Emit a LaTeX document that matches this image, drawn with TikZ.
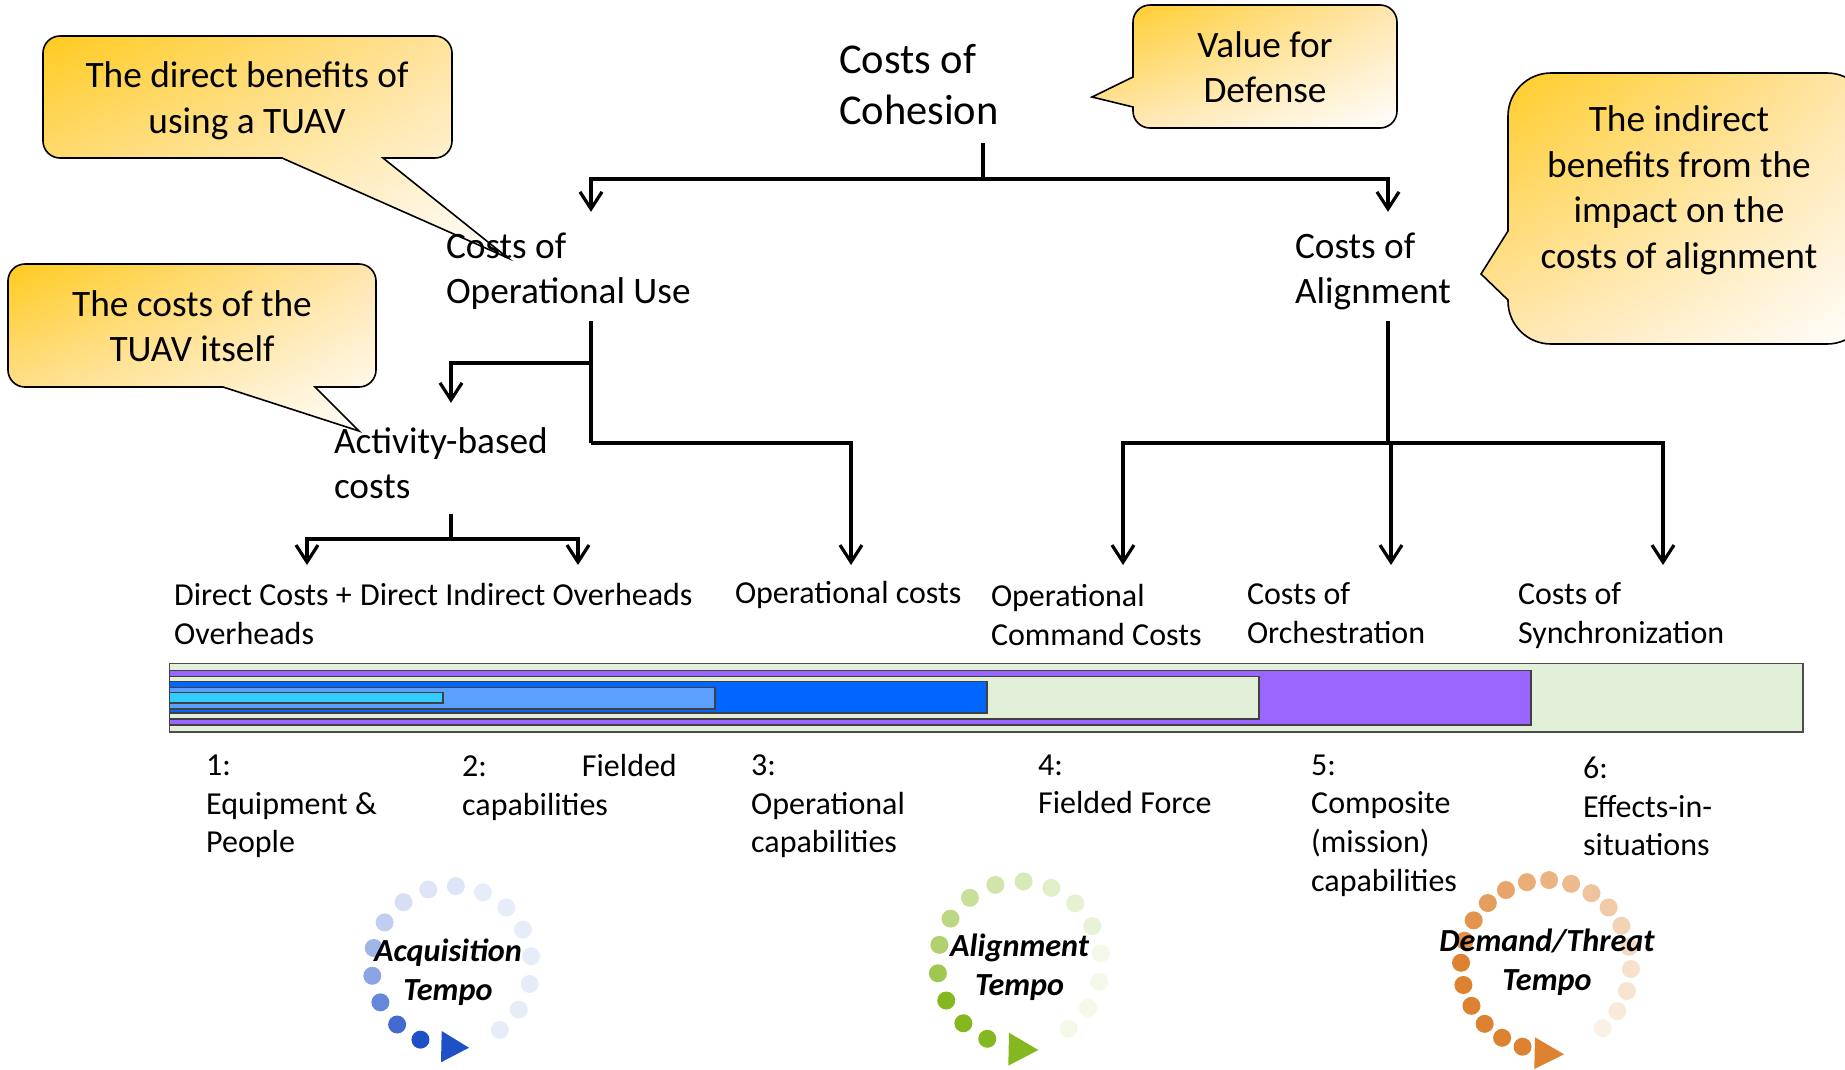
\documentclass[tikz,border=0pt]{standalone}
\usepackage{fontspec}
\setmainfont{Carlito}
\usepackage{tikz}
\usetikzlibrary{arrows.meta,calc,shadings}
\tikzset{>={Straight Barb[length=17pt,width=22pt,line width=3.2pt]}}
\def\ux{1pt}
\def\uy{-1pt}
\definecolor{calloutfrom}{HTML}{FFCB1F}
\definecolor{calloutmid}{HTML}{FFE5AE}
\definecolor{barwash}{HTML}{E2EFD9}
\definecolor{barmission}{HTML}{9966FF}
\definecolor{barops}{HTML}{0066FF}
\definecolor{barfielded}{HTML}{5B9FFF}
\definecolor{barequip}{HTML}{33CCFF}
\definecolor{acqblue}{HTML}{2050C8}
\definecolor{aligngreen}{HTML}{85B81E}
\definecolor{threatorange}{HTML}{DD8230}
\tikzset{
	link/.style={line width=4pt},
	branch/.style={link,->},
	balloon/.style={draw=black,line width=1.6pt,shade,upper left=calloutfrom,upper right=calloutmid,lower left=calloutmid,lower right=white},
	balloontext/.style={inner sep=0pt,align=center,font=\fontsize{37.3}{45.5}\selectfont},
	costbox/.style={inner sep=0pt,align=flush left,font=\fontsize{37.3}{45.5}\selectfont,execute at begin node=\rule{0pt}{35pt}},
	leafbox/.style={inner sep=0pt,align=flush left,anchor=north,font=\fontsize{32}{39}\selectfont},
	levelbox/.style={inner sep=0pt,align=left,anchor=north west,font=\fontsize{32}{38.7}\selectfont},
	tempobox/.style={inner sep=0pt,align=center,font=\fontsize{32.2}{39}\selectfont\bfseries\itshape}
}
\newcommand{\tempodots}[7]{% x, y, radius, start angle, step, colour, fades
	\foreach \fade [count=\i from 0] in {#7}{
		\pgfmathsetmacro{\ang}{#4-#5*\i}
		\fill[#6!\fade!white] ($(#1,#2)+(\ang:#3pt)$) circle (9pt);
	}
}
\begin{document}
\begin{tikzpicture}[x=\ux,y=\uy]
	\useasboundingbox (0,0) rectangle (1845,1069);
	\clip (0,0) rectangle (1845,1069);

	% balloons
	\path[balloon,rounded corners=17pt] (250,36) -- (452,36) -- (452,158) [sharp corners] -- (383,158) -- (508,258) -- (282,158) [rounded corners=17pt] -- (43,158) -- (43,36) -- cycle;
	\path[balloon,rounded corners=17pt] (190,264) -- (376,264) -- (376,387) [sharp corners] -- (315,387) -- (359,431) -- (223,387) [rounded corners=17pt] -- (8,387) -- (8,264) -- cycle;
	\path[balloon,rounded corners=17pt] (1264,5) -- (1397,5) -- (1397,128) -- (1133,128) [sharp corners] -- (1133,107) -- (1092,97) -- (1133,77) [rounded corners=17pt] -- (1133,5) -- cycle;
	\path[balloon,rounded corners=43pt] (1680,73) -- (1870,73) -- (1870,344) -- (1508,344) [sharp corners] -- (1508,300) -- (1481,274) -- (1508,231) [rounded corners=43pt] -- (1508,73) -- cycle;

	\node[balloontext] (benefit) at (247,101) {The direct benefits of\\using a TUAV};
	\node[balloontext] (itself) at (192,326) {The costs of the\\TUAV itself};
	\node[balloontext] (value) at (1265,67) {Value for\\Defense};
	\node[balloontext] (indirect) at (1679,190) {The indirect\\benefits from the\\impact on the\\costs of alignment};

	% cost tree
	\node[costbox,text width=288pt,minimum height=122pt,font=\fontsize{42.5}{51}\selectfont,execute at begin node={}] (cohesion) at (983,82) {Costs of\\Cohesion};
	\node[costbox,text width=290pt,minimum height=109pt] (opuse) at (591,266.5) {Costs of\\Operational Use};
	\node[costbox,text width=186pt,minimum height=109pt] (alignment) at (1388,266.5) {Costs of\\Alignment};
	\node[costbox,text width=234pt,minimum height=111pt] (activity) at (451,458.5) {Activity-based\\costs};

	\node[leafbox,anchor=north west] (dcost) at (174,583) {Direct Costs +\\Overheads};
	\node[leafbox,anchor=north west] (dindirect) at (360,583) {Direct Indirect Overheads};
	\node[leafbox,text width=232pt,minimum height=59pt] (opcost) at (851,565) {Operational costs};
	\node[leafbox,text width=264pt,minimum height=99pt] (opcommand) at (1123,565) {Operational\\Command Costs};
	\node[leafbox,text width=288pt,minimum height=96pt] (orchestra) at (1391,565) {Costs of\\Orchestration};
	\node[leafbox,text width=290pt,minimum height=101pt] (synchron) at (1663,565) {Costs of\\Synchronization};

	\coordinate (jcohesion) at (983,179);
	\coordinate (jactivity) at (591,363);
	\coordinate (jopcost) at (591,443);
	\coordinate (jalign) at (1388,443);
	\coordinate (jdirect) at (451,539);
	\coordinate (tipdcost) at (307,565);
	\coordinate (tipdindirect) at (578,565);

	\draw[link] (cohesion.south) -- (jcohesion);
	\draw[branch] (jcohesion) -| (opuse.north);
	\draw[branch] (jcohesion) -| (alignment.north);
	\draw[link] (opuse.south) -- (jopcost);
	\draw[branch] (jactivity) -| (activity.north);
	\draw[branch] (jopcost) -| (opcost.north);
	\draw[link] (alignment.south) -- (jalign);
	\draw[branch] (jalign) -| (opcommand.north);
	\draw[branch] (jalign) -| (orchestra.north);
	\draw[branch] (jalign) -| (synchron.north);
	\draw[link] (activity.south) -- (jdirect);
	\draw[branch] (jdirect) -| (tipdcost);
	\draw[branch] (jdirect) -| (tipdindirect);

	% nested bar
	\draw[draw=black!70,fill=barwash,line width=1.5pt] (169.5,663.5) rectangle (1803,732);
	\foreach \xend/\ytop/\ybot/\barcol in {1531/670.5/725/barmission,1259/676.5/719/barwash,987/681.5/713/barops,715/687.5/709/barfielded,443/692.5/703/barequip}{
		\draw[draw=black!75,fill=\barcol,line width=1.5pt] (169.5,\ytop) rectangle (\xend,\ybot);
	}

	% levels
	\node[levelbox] (lvlone) at (206,754.5) {1:\\Equipment \&\\People};
	\node[levelbox] (lvltwo) at (462,754.5) {2:\hspace{95pt}Fielded\\capabilities};
	\node[levelbox] (lvlthree) at (751,754.5) {3:\\Operational\\capabilities};
	\node[levelbox] (lvlfour) at (1038,754.5) {4:\\Fielded Force};
	\node[levelbox] (lvlfive) at (1311,754.5) {5:\\Composite\\(mission)\\capabilities};
	\node[levelbox] (lvlsix) at (1583,756.5) {6:\\Effects-in-\\situations};

	% tempo rings
	\tempodots{451.7}{966}{80}{247}{20}{acqblue}{100,85,68,52,42,28,18,15,15,11,11,11,11,11,11,11}
	\tempodots{1019.3}{963.3}{82}{247}{20}{aligngreen}{100,100,100,78,65,55,45,38,32,24,20,18,10,10,10,10}
	\tempodots{1546}{965}{85}{254}{15.1}{threatorange}{100,100,100,100,100,100,88,85,78,72,65,60,55,48,42,36,30,24,22,18,12}

	\fill[acqblue] (441.7,1031) -- (469,1047.7) -- (441,1062.3) -- cycle;
	\fill[aligngreen] (1009,1032.7) -- (1038.3,1050) -- (1008.3,1065.7) -- cycle;
	\fill[threatorange] (1535,1037.3) -- (1564,1054.3) -- (1534.3,1069) -- cycle;

	\node[tempobox] (acqtempo) at (448,972) {Acquisition\\Tempo};
	\node[tempobox] (aligntempo) at (1019.6,967) {Alignment\\Tempo};
	\node[tempobox] (threattempo) at (1547,962.5) {Demand/Threat\\Tempo};
\end{tikzpicture}
\end{document}
